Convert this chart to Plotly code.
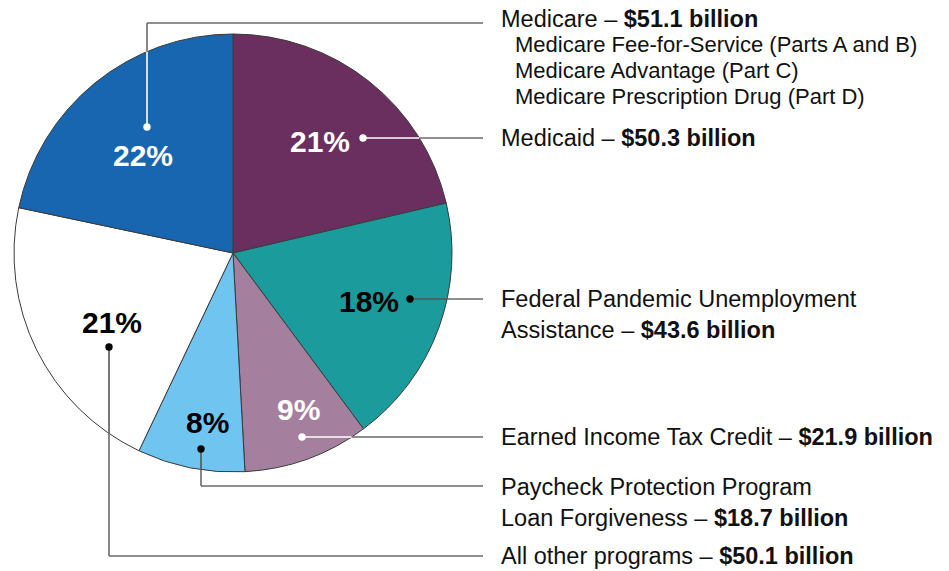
import math
import plotly.graph_objects as go

# ---- data ----
programs = ["Medicaid", "Federal Pandemic Unemployment Assistance", "Earned Income Tax Credit",
            "Paycheck Protection Program Loan Forgiveness", "All other programs", "Medicare"]
amounts = [50.3, 43.6, 21.9, 18.7, 50.1, 51.1]  # $ billion
colors = ["#6B2F5F", "#1C9B9C", "#A47F9E", "#70C5F0", "#FFFFFF", "#1966B0"]
label_lines = [["Medicaid – "],
               ["Federal Pandemic Unemployment", "Assistance – "],
               ["Earned Income Tax Credit – "],
               ["Paycheck Protection Program", "Loan Forgiveness – "],
               ["All other programs – "],
               ["Medicare – "]]
medicare_parts = ["Medicare Fee-for-Service (Parts A and B)", "Medicare Advantage (Part C)",
                  "Medicare Prescription Drug (Part D)"]

W, H = 949, 571
CX, CY, R = 233, 253, 219

def px(x):
    return x / W

def py(y):
    return 1 - y / H

total = sum(amounts)
pcts = [round(a / total * 100) for a in amounts]

fig = go.Figure(go.Pie(
    labels=programs, values=amounts, sort=False, direction="clockwise", rotation=0,
    marker=dict(colors=colors, line=dict(color="#3a3a3a", width=1)),
    textinfo="none", hoverinfo="label+value+percent", showlegend=False,
    domain=dict(x=[px(CX - R), px(CX + R)], y=[py(CY + R), py(CY - R)]),
))

# styling per slice (layout only)
pct_pos = [(320, 142), (369, 301), (298, 409), (207, 422), (112, 322), (143, 156)]
pct_col = ["white", "black", "white", "black", "black", "white"]
dot_pos = [(363, 138), (410, 299), (302, 437), (201, 449), (109, 347), (147, 127)]
inner_col = ["white", "#555555", "white", "#555555", "#555555", "white"]
label_y = [138, 299, 437, 487, 556, 19]
elbow_y = [None, None, None, 486, 556, 23]
LX_END, LX_TEXT = 483, 500
LINE_GAP = 31
GRAY = "#6a6a6a"
FONT = "Liberation Sans, Arial"

shapes = []
annotations = []

def seg(x0, y0, x1, y1, col):
    shapes.append(dict(type="line", xref="paper", yref="paper",
                       x0=px(x0), y0=py(y0), x1=px(x1), y1=py(y1),
                       line=dict(color=col, width=1.6)))

def text(x, y, s, size, color="#111111", anchor="left"):
    annotations.append(dict(x=px(x), y=py(y), xref="paper", yref="paper", text=s,
                            showarrow=False, font=dict(size=size, color=color, family=FONT),
                            xanchor=anchor, yanchor="middle", align="left", borderpad=0))

for i in range(len(programs)):
    dx, dy = dot_pos[i]
    if elbow_y[i] is None:
        xe = CX + math.sqrt(R**2 - (dy - CY)**2)
        seg(dx, dy, xe, dy, inner_col[i])
        seg(xe, dy, LX_END, dy, GRAY)
    else:
        ey = elbow_y[i]
        h = math.sqrt(R**2 - (dx - CX)**2)
        edge = CY + h if ey > dy else CY - h
        seg(dx, dy, dx, edge, inner_col[i])
        seg(dx, edge, dx, ey, GRAY)
        seg(dx, ey, LX_END, ey, GRAY)
    dc = "white" if pct_col[i] == "white" else "black"
    rr = 3.7
    shapes.append(dict(type="circle", xref="paper", yref="paper",
                       x0=px(dx - rr), x1=px(dx + rr), y0=py(dy + rr), y1=py(dy - rr),
                       fillcolor=dc, line=dict(color=dc, width=0)))
    text(pct_pos[i][0], pct_pos[i][1], f"<b>{pcts[i]}%</b>", 30, pct_col[i], "center")
    lines = label_lines[i]
    for j, ln in enumerate(lines):
        s = ln
        if j == len(lines) - 1:
            s = f"{ln}<b>${amounts[i]:.1f} billion</b>"
        text(LX_TEXT, label_y[i] + j * LINE_GAP, s, 23.5)

for j, part in enumerate(medicare_parts):
    text(514, 45 + j * 25.5, part, 22)

fig.update_layout(width=W, height=H, margin=dict(l=0, r=0, t=0, b=0),
                  paper_bgcolor="white", plot_bgcolor="white",
                  shapes=shapes, annotations=annotations)
fig.write_html("out.html", config={"displayModeBar": False},
               post_script="document.body.style.margin='0';")
